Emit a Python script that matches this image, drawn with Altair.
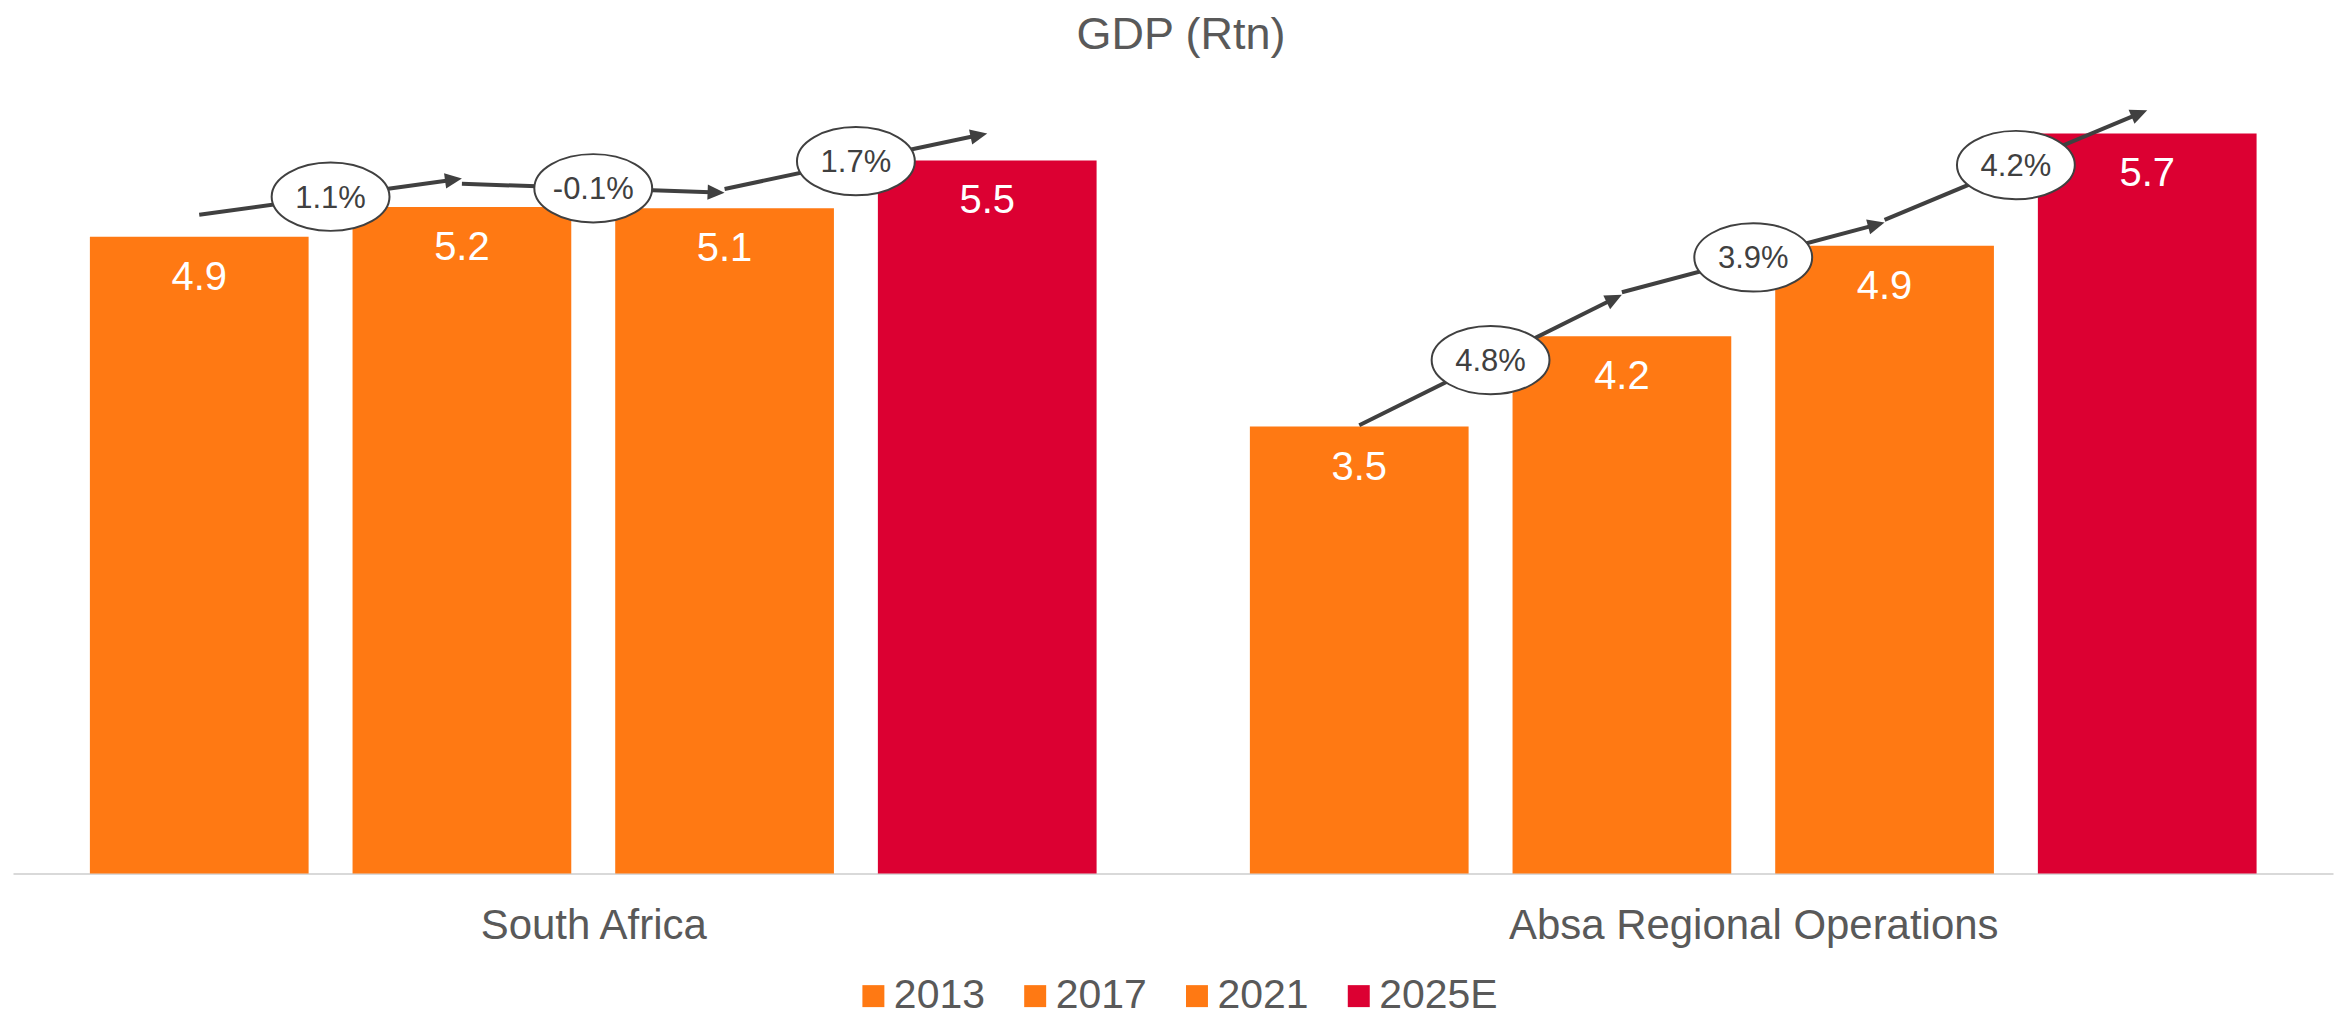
import math
import altair as alt
import pandas as pd

# ---------------- data ----------------
groups = ["South Africa", "Absa Regional Operations"]
years = ["2013", "2017", "2021", "2025E"]
sa_values = [4.93, 5.16, 5.15, 5.52]
aro_values = [3.46, 4.16, 4.86, 5.73]
sa_labels = ["4.9", "5.2", "5.1", "5.5"]
aro_labels = ["3.5", "4.2", "4.9", "5.7"]
sa_cagr = ["1.1%", "-0.1%", "1.7%"]
aro_cagr = ["4.8%", "3.9%", "4.2%"]
sa_arrow_start = [5.10, 5.34, 5.30]
sa_arrow_end = [5.38, 5.27, 5.73]
aro_arrow_start = [3.47, 4.50, 5.06]
aro_arrow_end = [4.48, 5.04, 5.91]
year_colors = ["#FF7913", "#FF7913", "#FF7913", "#DC0032"]

# ---------------- layout constants ----------------
W, H = 2323, 776
Y_MAX = 6.0
STEP_PX = 263.0
BAR_PX = 219.0
GROUP_GAP = 4.4163          # distance between groups, in bar steps
X0 = -0.7091
X1 = X0 + W / STEP_PX
KX = STEP_PX
KY = H / Y_MAX
HALF = BAR_PX / STEP_PX / 2
HEAD_LEN = 17.0

TEXT_GREY = "#595959"
DARK = "#404040"
FONT = "Liberation Sans"

# ---------------- tables ----------------
bar_rows = []
for gi, (g, vals, labs) in enumerate(zip(groups, [sa_values, aro_values], [sa_labels, aro_labels])):
    for yi, (yr, v, lab) in enumerate(zip(years, vals, labs)):
        pos = gi * GROUP_GAP + yi
        bar_rows.append({"group": g, "year": yr, "value": v, "label": lab,
                         "pos": pos, "x0": pos - HALF, "x1": pos + HALF})
bar_df = pd.DataFrame(bar_rows)

arrow_rows = []
for gi, (g, labs, starts, ends) in enumerate(zip(
        groups, [sa_cagr, aro_cagr], [sa_arrow_start, aro_arrow_start], [sa_arrow_end, aro_arrow_end])):
    for k, (lab, ys, ye) in enumerate(zip(labs, starts, ends)):
        xs = gi * GROUP_GAP + k
        xe = xs + 1
        dxp = (xe - xs) * KX
        dyp = (ye - ys) * KY
        length = math.hypot(dxp, dyp)
        f = (HEAD_LEN - 3) / length
        ang = math.degrees(math.atan2(-dyp, dxp)) % 360
        arrow_rows.append({"group": g, "label": lab, "xs": xs, "ys": ys, "xe": xe, "ye": ye,
                           "xl": xe - f * (xe - xs), "yl": ye - f * (ye - ys),
                           "xm": (xs + xe) / 2, "ym": (ys + ye) / 2, "angle": ang})
arrow_df = pd.DataFrame(arrow_rows)

centers = [gi * GROUP_GAP + (len(years) - 1) / 2 for gi in range(len(groups))]
mid = sum(centers) / 2
label_expr = f"datum.value < {mid} ? '{groups[0]}' : '{groups[1]}'"

# ---------------- shapes ----------------
RY = 0.58
KAP = 0.5523
ELLIPSE = (f"M-1,0 C-1,{-KAP*RY:.4f} {-KAP},{-RY} 0,{-RY} "
           f"C{KAP},{-RY} 1,{-KAP*RY:.4f} 1,0 "
           f"C1,{KAP*RY:.4f} {KAP},{RY} 0,{RY} "
           f"C{-KAP},{RY} -1,{KAP*RY:.4f} -1,0 Z")
HEAD = "M0,0 L-1,-0.45 L-1,0.45 Z"

xscale = alt.Scale(domain=[X0, X1], nice=False, zero=False)
yscale = alt.Scale(domain=[0, Y_MAX], nice=False, zero=True)
xaxis = alt.Axis(values=centers, labelExpr=label_expr, grid=False, ticks=False, title=None,
                 tickSize=0, labelFontSize=42, labelColor=TEXT_GREY, labelPadding=32,
                 labelFlush=False, labelOverlap=False, labelFont=FONT, labelLimit=2000,
                 domainColor="#D9D9D9", domainWidth=2)


def X(field):
    return alt.X(field, scale=xscale, axis=xaxis, title=None)


def Y(field):
    return alt.Y(field, scale=yscale, axis=None, title=None)


bars = alt.Chart(bar_df).mark_bar().encode(
    x=X("x0:Q"),
    x2="x1:Q",
    y=Y("value:Q"),
    y2=alt.datum(0),
    color=alt.Color("year:N", scale=alt.Scale(domain=years, range=year_colors),
                    legend=alt.Legend(title=None, orient="none", legendX=841, legendY=878,
                                      direction="horizontal", symbolType="square",
                                      symbolSize=484, symbolStrokeWidth=0, symbolOpacity=1,
                                      labelFontSize=41, labelColor=TEXT_GREY, labelFont=FONT,
                                      labelOffset=0, columnPadding=29, padding=0)),
)

value_text = alt.Chart(bar_df).mark_text(color="white", fontSize=40, baseline="alphabetic",
                                          dy=53, align="center").encode(
    x=X("pos:Q"),
    y=Y("value:Q"),
    text="label:N",
)

arrow_lines = alt.Chart(arrow_df).mark_rule(color=DARK, strokeWidth=4).encode(
    x=X("xs:Q"),
    x2="xl:Q",
    y=Y("ys:Q"),
    y2="yl:Q",
)

heads = alt.Chart(arrow_df).mark_point(shape=HEAD, size=HEAD_LEN * HEAD_LEN * 4, filled=True,
                                       color=DARK, opacity=1, strokeWidth=0).encode(
    x=X("xe:Q"),
    y=Y("ye:Q"),
    angle=alt.Angle("angle:Q", scale=None),
)

ellipses = alt.Chart(arrow_df).mark_point(shape=ELLIPSE, size=118 * 118, filled=True,
                                          fill="white", stroke=DARK, strokeWidth=2,
                                          opacity=1).encode(
    x=X("xm:Q"),
    y=Y("ym:Q"),
)

ell_text = alt.Chart(arrow_df).mark_text(fontSize=31, color=DARK, baseline="middle",
                                         dy=2, align="center").encode(
    x=X("xm:Q"),
    y=Y("ym:Q"),
    text="label:N",
)

chart = alt.layer(bars, value_text, arrow_lines, heads, ellipses, ell_text).properties(
    width=W,
    height=H,
    title=alt.TitleParams("GDP (Rtn)", fontSize=45, color=TEXT_GREY, fontWeight="normal",
                          anchor="middle", offset=41, dx=8, font=FONT),
    autosize=alt.AutoSizeParams(type="none"),
    padding={"left": 5, "top": 90, "right": 5, "bottom": 140},
).configure(font=FONT).configure_view(strokeWidth=0)

chart.save("out.html", embed_options={"renderer": "svg", "actions": False})
